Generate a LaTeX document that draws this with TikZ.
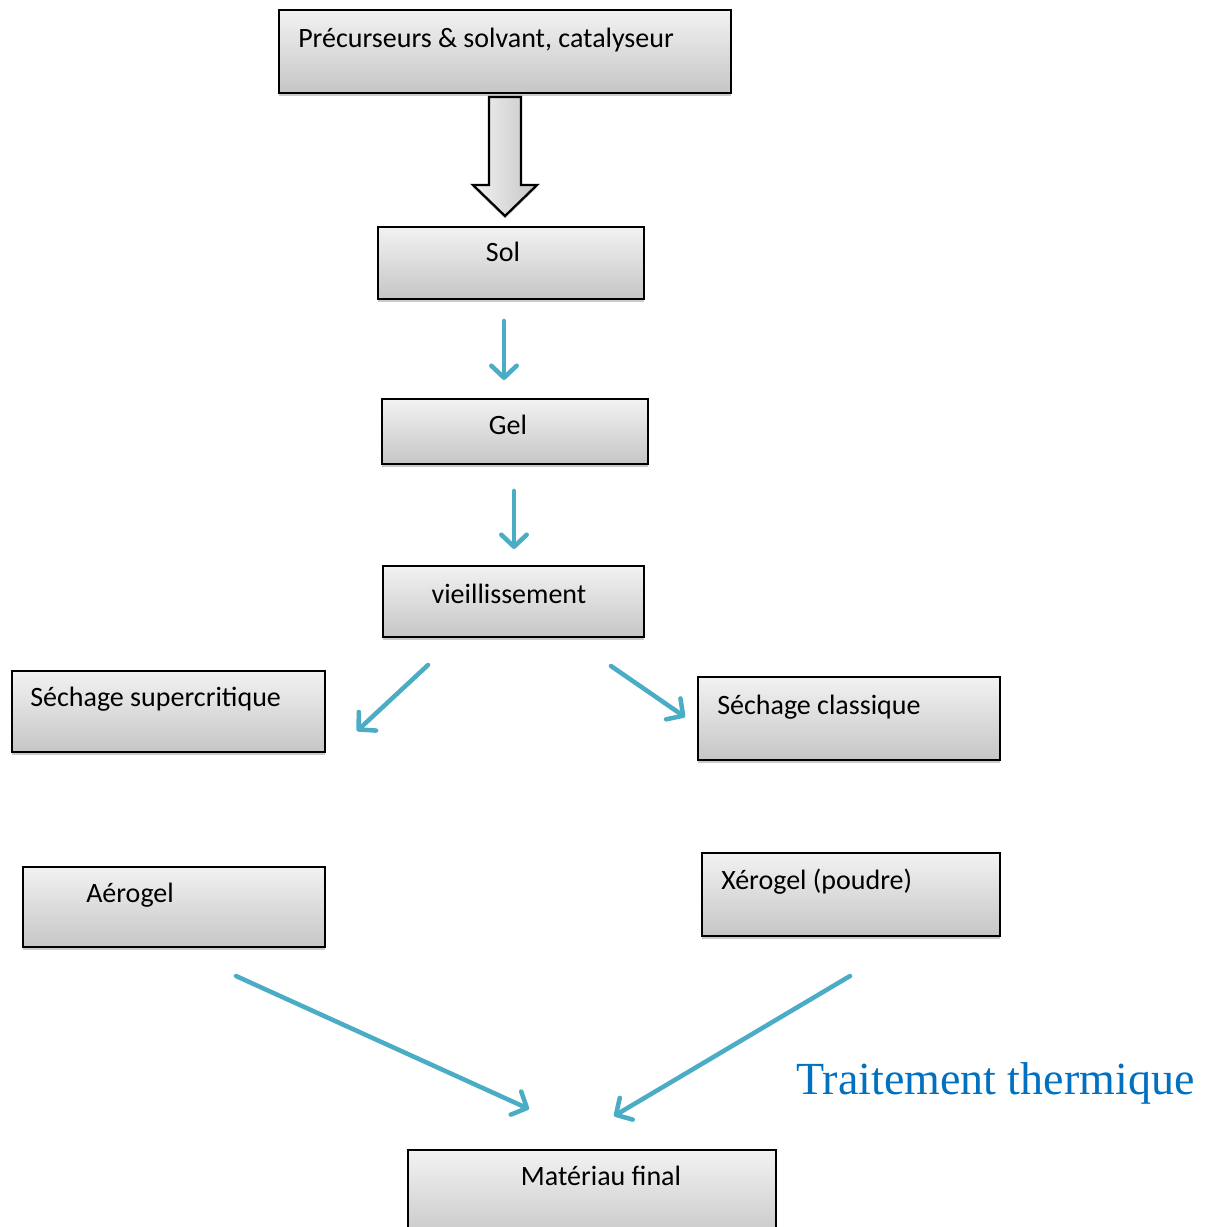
\documentclass[tikz,border=0pt]{standalone}
\usepackage{fontspec}
\setmainfont{Carlito}
\newfontfamily\serifblue{Liberation Serif}
\usetikzlibrary{arrows.meta,shadows}
\definecolor{arrowblue}{HTML}{4BACC6}
\definecolor{textblue}{HTML}{0070C0}
\tikzset{
  box/.style={draw=black, line width=2.1pt, top color=gray!10, bottom color=gray!45, inner sep=0pt,
    drop shadow={shadow xshift=0pt, shadow yshift=-2.2pt, fill=gray!70, opacity=0.6}},
  lbl/.style={font=\fontsize{21}{24}\selectfont, inner sep=0pt},
  flow/.style={draw=arrowblue, line width=3.4pt, line cap=round,
    -{Straight Barb[length=9pt, width=19pt, line width=3.4pt, round]}},
}
\begin{document}
\begin{tikzpicture}[x=0.75pt, y=-0.75pt]
\useasboundingbox (0,0) rectangle (1205,1227);
\clip (0,0) rectangle (1205,1227);
% boxes
\node[box, minimum width=339pt, minimum height=62.25pt] (b1) at (505,51.5) {};
\node[box, minimum width=199.5pt, minimum height=54pt] (b2) at (511,263) {};
\node[box, minimum width=199.5pt, minimum height=48.75pt] (b3) at (515,431.5) {};
\node[box, minimum width=195.75pt, minimum height=53.25pt] (b4) at (513.5,601.5) {};
\node[box, minimum width=234.75pt, minimum height=60.75pt] (b5) at (168.5,711.5) {};
\node[box, minimum width=226.5pt, minimum height=62.25pt] (b6) at (849,718.5) {};
\node[box, minimum width=226.5pt, minimum height=60pt] (b7) at (174,907) {};
\node[box, minimum width=223.5pt, minimum height=62.25pt] (b8) at (851,894.5) {};
\node[box, minimum width=276pt, minimum height=71.25pt] (b9) at (592,1197.5) {};
% labels
\node[lbl, anchor=base west] (t1) at (298,47.5) {Précurseurs \& solvant, catalyseur};
\node[lbl, anchor=base] (t2) at (503,261.5) {Sol};
\node[lbl, anchor=base] (t3) at (508,434.5) {Gel};
\node[lbl, anchor=base] (t4) at (509,603.5) {vieillissement};
\node[lbl, anchor=base west] (t5) at (30,706.5) {Séchage supercritique};
\node[lbl, anchor=base west] (t6) at (717,714.5) {Séchage classique};
\node[lbl, anchor=base west] (t7) at (86,902.5) {Aérogel};
\node[lbl, anchor=base west] (t8) at (721,889.5) {Xérogel (poudre)};
\node[lbl, anchor=base] (t9) at (601,1185.5) {Matériau final};
\node[anchor=base west, inner sep=0pt, text=textblue, font=\serifblue\fontsize{34.5}{40}\selectfont] (tt) at (796,1094) {Traitement thermique};
% block arrow
\path[draw=black, line width=1.7pt, line join=miter, left color=gray!10, right color=gray!45,
  drop shadow={shadow xshift=0pt, shadow yshift=-2pt, fill=gray!70, opacity=0.5}]
  (489,97) -- (521,97) -- (521,185) -- (537,185) -- (505,216) -- (473,185) -- (489,185) -- cycle;
% blue arrows
\coordinate (a1s) at (504,321); \coordinate (a1e) at (504,380);
\coordinate (a2s) at (514,491); \coordinate (a2e) at (514,549);
\coordinate (a3s) at (428,665); \coordinate (a3e) at (357,731);
\coordinate (a4s) at (611,666); \coordinate (a4e) at (685,717);
\coordinate (a5s) at (236,976); \coordinate (a5e) at (529,1109);
\coordinate (a6s) at (850,976); \coordinate (a6e) at (614,1116);
\draw[flow] (a1s) -- (a1e);
\draw[flow] (a2s) -- (a2e);
\draw[flow] (a3s) -- (a3e);
\draw[flow] (a4s) -- (a4e);
\draw[flow] (a5s) -- (a5e);
\draw[flow] (a6s) -- (a6e);
\end{tikzpicture}
\end{document}
